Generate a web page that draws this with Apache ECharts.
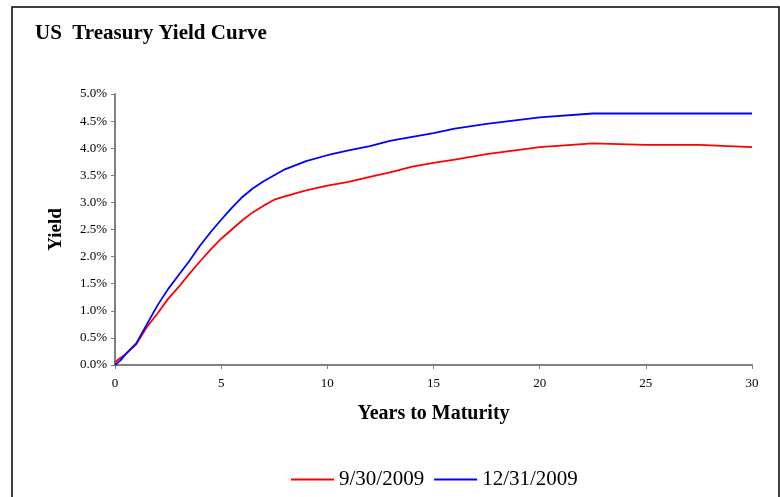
<!DOCTYPE html>
<html>
<head>
<meta charset="utf-8">
<script src="https://cdn.jsdelivr.net/npm/echarts@6/dist/echarts.min.js"></script>
<style>
  html, body { margin: 0; padding: 0; background: #fff; }
  #chart { width: 780px; height: 497px; }
</style>
</head>
<body>
<div id="chart"></div>
<script>
// maturities in years, yields in percent
const maturities = [0, 0.25, 0.5, 1, 1.5, 2, 2.5, 3, 3.5, 4, 4.5, 5, 5.5, 6, 6.5, 7, 7.5, 8, 9, 10, 11, 12, 13, 14, 15, 16, 17.5, 20, 22.5, 25, 27.5, 30];
const sep2009 = [0.05, 0.13, 0.2, 0.38, 0.7, 0.95, 1.22, 1.44, 1.68, 1.91, 2.13, 2.33, 2.5, 2.67, 2.82, 2.94, 3.05, 3.11, 3.22, 3.31, 3.38, 3.47, 3.56, 3.66, 3.73, 3.79, 3.89, 4.02, 4.09, 4.06, 4.06, 4.02];
const dec2009 = [0.0, 0.08, 0.2, 0.4, 0.75, 1.1, 1.4, 1.66, 1.92, 2.2, 2.45, 2.68, 2.9, 3.1, 3.26, 3.39, 3.5, 3.61, 3.76, 3.87, 3.96, 4.04, 4.14, 4.21, 4.28, 4.36, 4.45, 4.57, 4.64, 4.64, 4.64, 4.64];
const seriesNames = ['9/30/2009', '12/31/2009'];

const serif = '"Liberation Serif", "DejaVu Serif", serif';
const chart = echarts.init(document.getElementById('chart'));

const pairs = (ys) => maturities.map((m, i) => [m, ys[i]]);

chart.setOption({
    animation: false,
    title: {
        text: 'US  Treasury Yield Curve',
        left: 30,
        top: 18,
        textStyle: { fontFamily: serif, fontSize: 21, fontWeight: 'bold', color: '#000' }
    },
    graphic: [{
        type: 'rect',
        shape: { x: 12, y: 7, width: 767, height: 510 },
        style: { fill: null, stroke: '#000', lineWidth: 1.5 },
        z: -1
    }],
    legend: {
        data: seriesNames,
        left: 286,
        top: 464,
        itemWidth: 43,
        itemHeight: 2,
        itemGap: 10,
        icon: 'rect',
        textStyle: { fontFamily: serif, fontSize: 21, color: '#000' }
    },
    grid: { left: 115, right: 28, top: 94, bottom: 132 },
    xAxis: {
        type: 'value',
        min: 0,
        max: 30,
        interval: 5,
        name: 'Years to Maturity',
        nameLocation: 'middle',
        nameGap: 39,
        nameTextStyle: { fontFamily: serif, fontSize: 20, fontWeight: 'bold', color: '#000' },
        axisLine: { lineStyle: { color: '#808080', width: 2 } },
        axisTick: { show: true, length: 4, lineStyle: { color: '#808080' } },
        axisLabel: { fontFamily: serif, fontSize: 13, color: '#000', margin: 12 },
        splitLine: { show: false }
    },
    yAxis: {
        type: 'value',
        min: 0,
        max: 5,
        interval: 0.5,
        name: 'Yield',
        nameLocation: 'middle',
        nameRotate: 90,
        nameGap: 49,
        nameTextStyle: { fontFamily: serif, fontSize: 19, fontWeight: 'bold', color: '#000' },
        axisLine: { show: true, lineStyle: { color: '#808080', width: 2 } },
        axisTick: { show: true, length: 4, lineStyle: { color: '#808080' } },
        axisLabel: {
            fontFamily: serif, fontSize: 13, color: '#000', margin: 8,
            formatter: (v) => v.toFixed(1) + '%'
        },
        splitLine: { show: false }
    },
    series: [
        {
            name: seriesNames[0],
            type: 'line',
            data: pairs(sep2009),
            showSymbol: false,
            color: '#ff0000',
            lineStyle: { color: '#ff0000', width: 1.8 }
        },
        {
            name: seriesNames[1],
            type: 'line',
            data: pairs(dec2009),
            showSymbol: false,
            color: '#0000ff',
            lineStyle: { color: '#0000ff', width: 1.8 }
        }
    ]
});
</script>
</body>
</html>
